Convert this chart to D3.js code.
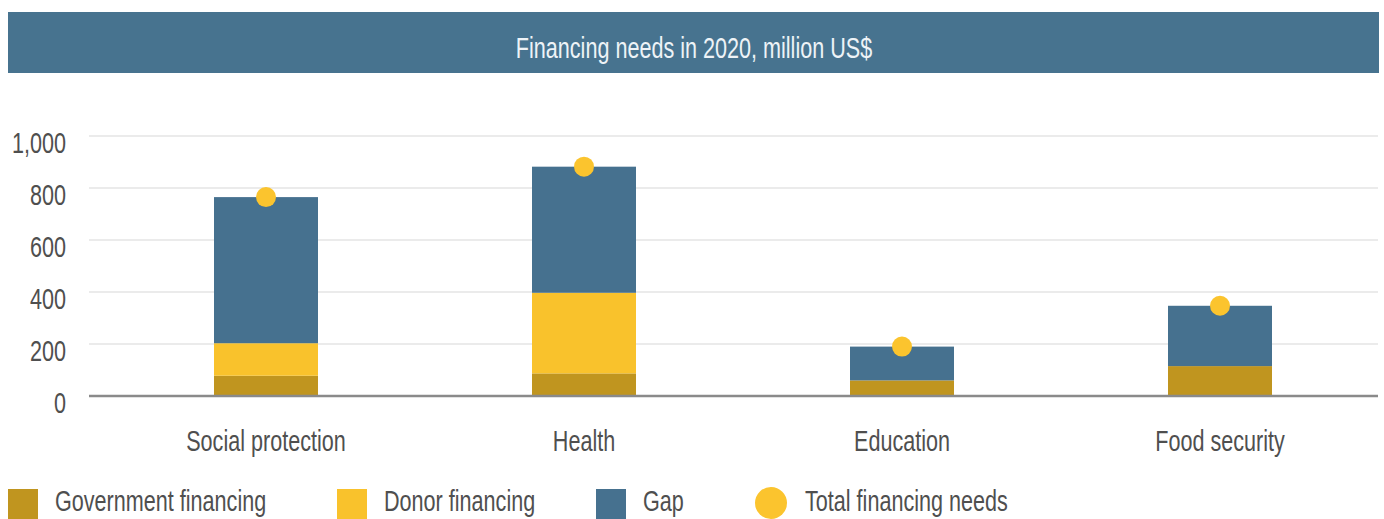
<!DOCTYPE html>
<html>
<head>
<meta charset="utf-8">
<script src="https://cdn.jsdelivr.net/npm/d3@7"></script>
<style>
  html, body { margin: 0; padding: 0; background: #ffffff; }
  svg { display: block; }
  text { font-family: "Liberation Sans", Arial, sans-serif; }
</style>
</head>
<body>
<svg id="chart" width="1384" height="519"></svg>
<script>
// Financing needs in 2020 by sector, million US$
const categories = ["Social protection", "Health", "Education", "Food security"];
const government = [78, 87, 60, 115];
const donor      = [125, 310, 0, 0];
const gap        = [562, 485, 130, 232];
const total      = [765, 882, 190, 347];

const yTicks = [0, 200, 400, 600, 800, 1000];

const seriesKeys   = ["government", "donor", "gap"];
const seriesNames  = ["Government financing", "Donor financing", "Gap"];
const seriesColors = ["#c0951f", "#f9c22c", "#46718f"];
const totalName  = "Total financing needs";
const totalColor = "#fbc42e";
const titleText  = "Financing needs in 2020, million US$";

const W = 1384, H = 519;
const squeeze = 0.72;           // narrow letterforms
const fontSize = 30;
const textColor = "#4f4f4f";

const svg = d3.select("#chart");

const rows = categories.map((c, i) => ({
  category: c,
  government: government[i],
  donor: donor[i],
  gap: gap[i],
  total: total[i]
}));

const x = d3.scaleBand()
  .domain(categories)
  .range([107, 1379])
  .paddingInner(0.673)
  .paddingOuter(0.3365);

const y = d3.scaleLinear()
  .domain([0, 1000])
  .range([396, 136]);

const plotLeft = 89, plotRight = 1378;

// condensed text helper
function condText(g, str, tx, ty, anchor, size, fill) {
  return g.append("text")
    .attr("transform", `translate(${tx},${ty}) scale(${squeeze},1)`)
    .attr("text-anchor", anchor)
    .attr("font-size", size)
    .attr("fill", fill)
    .text(str);
}

// Title banner
svg.append("rect")
  .attr("x", 8).attr("y", 12)
  .attr("width", 1371).attr("height", 61)
  .attr("fill", "#47738f");
condText(svg, titleText, 694, 58, "middle", fontSize, "#eef3f7");

// Gridlines
svg.append("g")
  .selectAll("line")
  .data(yTicks.filter(d => d !== 0))
  .join("line")
  .attr("x1", plotLeft).attr("x2", plotRight)
  .attr("y1", d => y(d)).attr("y2", d => y(d))
  .attr("stroke", "#e4e4e4")
  .attr("stroke-width", 1.5);

// Y axis labels
const yAxis = svg.append("g")
  .attr("transform", "translate(66,0)")
  .call(d3.axisLeft(y).tickValues(yTicks).tickSize(0).tickFormat(d3.format(",")));
yAxis.select(".domain").remove();
yAxis.selectAll(".tick text")
  .attr("x", 0)
  .attr("dy", null)
  .attr("transform", `translate(0,${6 + fontSize * 0.36}) scale(${squeeze},1)`)
  .attr("text-anchor", "end")
  .attr("font-size", fontSize)
  .attr("font-family", "Liberation Sans, Arial, sans-serif")
  .attr("fill", textColor);

// Stacked bars
const stack = d3.stack().keys(seriesKeys);
const layers = stack(rows);

svg.append("g")
  .selectAll("g")
  .data(layers)
  .join("g")
  .attr("fill", (d, i) => seriesColors[i])
  .selectAll("rect")
  .data(d => d)
  .join("rect")
  .attr("x", d => x(d.data.category))
  .attr("width", x.bandwidth())
  .attr("y", d => y(d[1]))
  .attr("height", d => y(d[0]) - y(d[1]));

// Baseline axis
svg.append("line")
  .attr("x1", plotLeft).attr("x2", plotRight)
  .attr("y1", y(0)).attr("y2", y(0))
  .attr("stroke", "#8a8a8a")
  .attr("stroke-width", 2.5);

// Total markers
svg.append("g")
  .selectAll("circle")
  .data(rows)
  .join("circle")
  .attr("cx", d => x(d.category) + x.bandwidth() / 2)
  .attr("cy", d => y(d.total))
  .attr("r", 10)
  .attr("fill", totalColor);

// Category labels
const xLabels = svg.append("g");
categories.forEach(c => {
  condText(xLabels, c, x(c) + x.bandwidth() / 2, 451, "middle", fontSize, textColor);
});

// Legend
const legendItems = [
  { name: seriesNames[0], color: seriesColors[0], shape: "square", x: 8 },
  { name: seriesNames[1], color: seriesColors[1], shape: "square", x: 337 },
  { name: seriesNames[2], color: seriesColors[2], shape: "square", x: 596 },
  { name: totalName,      color: totalColor,      shape: "circle", x: 755 }
];
const legend = svg.append("g");
legendItems.forEach(item => {
  if (item.shape === "square") {
    legend.append("rect")
      .attr("x", item.x).attr("y", 489)
      .attr("width", 30).attr("height", 30)
      .attr("fill", item.color);
  } else {
    legend.append("circle")
      .attr("cx", item.x + 16).attr("cy", 503)
      .attr("r", 16)
      .attr("fill", item.color);
  }
  condText(legend, item.name, item.x + (item.shape === "circle" ? 50 : 47), 511, "start", fontSize, textColor);
});
</script>
</body>
</html>
